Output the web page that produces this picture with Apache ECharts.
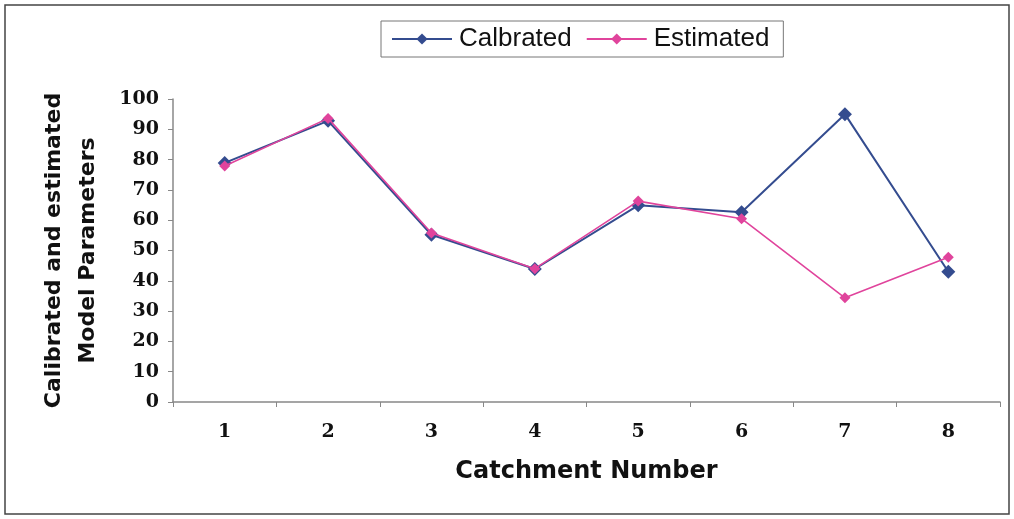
<!DOCTYPE html>
<html><head><meta charset="utf-8">
<script src="https://cdn.jsdelivr.net/npm/echarts@6/dist/echarts.min.js"></script>
<style>html,body{margin:0;padding:0;background:#fff}#c{width:1014px;height:519px}</style>
</head><body><div id="c"></div>
<script>
const categories = ['1','2','3','4','5','6','7','8'];
const calibrated = [78.9, 92.8, 55.2, 43.9, 64.9, 62.6, 95.0, 43.0];
const estimated = [77.9, 93.6, 55.8, 44.0, 66.3, 60.5, 34.4, 47.8];
const yTicks = [0,10,20,30,40,50,60,70,80,90,100];

const chart = echarts.init(document.getElementById('c'));
chart.setOption({
  animation: false,
  backgroundColor: '#fff',
  graphic: [{type:'rect', shape:{x:5,y:5,width:1004,height:509}, style:{fill:'none', stroke:'#444', lineWidth:1.5}}],
  legend: {
    top: 21, left: 381,
    padding: [5, 14, 5, 10],
    borderColor: '#777', borderWidth: 1,
    itemWidth: 60, itemHeight: 14, itemGap: 14,
    textStyle: {fontFamily: 'Liberation Sans, Arial', fontSize: 26, color: '#111', padding: [0,0,0,2]},
    data: ['Calbrated','Estimated']
  },
  grid: {left: 173, right: 14, top: 99, bottom: 117},
  xAxis: {
    type: 'category', data: categories, boundaryGap: true,
    name: 'Catchment Number', nameLocation: 'middle', nameGap: 58,
    nameTextStyle: {fontFamily: 'DejaVu Sans', fontWeight: 'bold', fontSize: 24, color: '#111'},
    axisLine: {lineStyle: {color: '#888', width: 1.5}},
    axisTick: {show: true, length: 5, lineStyle: {color: '#888'}},
    axisLabel: {fontFamily: 'DejaVu Serif', fontWeight: 'bold', fontSize: 19, color: '#111', margin: 21}
  },
  yAxis: {
    type: 'value', min: 0, max: 100, interval: 10,
    name: 'Calibrated and estimated\nModel Parameters', nameLocation: 'middle', nameGap: 68, nameRotate: 90,
    nameTextStyle: {fontFamily: 'DejaVu Sans', fontWeight: 'bold', fontSize: 22, color: '#111', lineHeight: 34},
    axisLine: {show: true, lineStyle: {color: '#888', width: 1.5}},
    axisTick: {show: true, length: 5, lineStyle: {color: '#888'}},
    splitLine: {show: false},
    axisLabel: {fontFamily: 'DejaVu Serif', fontWeight: 'bold', fontSize: 19, color: '#111', margin: 14,
      formatter: v => yTicks.includes(v) ? String(v) : ''}
  },
  series: [
    {name: 'Calbrated', type: 'line', data: calibrated, symbol: 'diamond', symbolSize: 14,
     itemStyle: {color: '#344c8f'}, lineStyle: {color: '#344c8f', width: 2}, z: 2},
    {name: 'Estimated', type: 'line', data: estimated, symbol: 'diamond', symbolSize: 11,
     itemStyle: {color: '#e0449c'}, lineStyle: {color: '#e0449c', width: 1.6}, z: 3}
  ]
});
</script></body></html>
